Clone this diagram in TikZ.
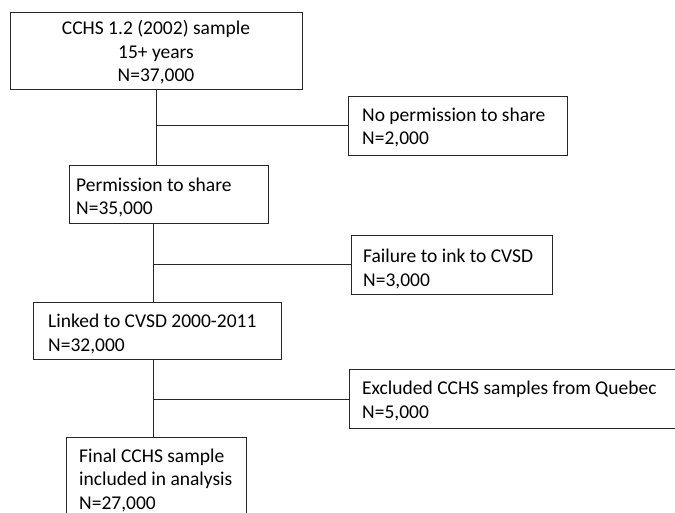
\documentclass[tikz,border=0pt]{standalone}
\usepackage{fontspec}
\setmainfont{Carlito}
\begin{document}
\begin{tikzpicture}[x=1pt,y=-1pt,
  box/.style={draw=black!85,line width=1pt,rectangle,inner sep=0pt,anchor=north west},
  txt/.style={inner sep=0pt,anchor=north west,align=left,font=\fontsize{19.5}{23.5}\selectfont},
  conn/.style={draw=black!85,line width=1pt}]
\useasboundingbox (0,0) rectangle (675,513);
\clip (0,0) rectangle (675,513);
% boxes
\node[box,minimum width=292pt,minimum height=77pt] (b1) at (10,12) {};
\node[box,minimum width=199pt,minimum height=58pt] (b2) at (69,165) {};
\node[box,minimum width=219pt,minimum height=59pt] (np) at (348,96) {};
\node[box,minimum width=201pt,minimum height=59pt] (fl) at (351,235) {};
\node[box,minimum width=248pt,minimum height=57pt] (lk) at (33,302) {};
\node[box,minimum width=360pt,minimum height=59pt] (ex) at (349,369) {};
\node[box,minimum width=180pt,minimum height=100pt] (fn) at (66,437) {};
% texts (first baseline = anchor + strut height 16.45)
\node[txt,anchor=north,align=center] (t1) at (156,18) {\strut CCHS 1.2 (2002) sample\\15+ years\\N=37,000};
\node[txt] (t2) at (76,174.5) {\strut Permission to share\\N=35,000};
\node[txt] (tnp) at (362,104.5) {\strut No permission to share\\N=2,000};
\node[txt] (tfl) at (363,246.2) {\strut Failure to ink to CVSD\\N=3,000};
\node[txt] (tlk) at (48,311.2) {\strut Linked to CVSD 2000-2011\\N=32,000};
\node[txt] (tex) at (362,378) {\strut Excluded CCHS samples from Quebec\\N=5,000};
\node[txt] (tfn) at (79,445.5) {\strut Final CCHS sample\\included in analysis\\N=27,000};
% connectors
\coordinate (tr) at (153.3,0);
\draw[conn] (b1.south) -- (b1.south |- b2.north);
\draw[conn] (b1.south |- np.west) -- (np.west);
\draw[conn] (b2.south -| tr) -- (lk.north -| tr);
\draw[conn] (tr |- fl.west) -- (fl.west);
\draw[conn] (lk.south -| tr) -- (fn.north -| tr);
\draw[conn] (tr |- ex.west) -- (ex.west);
\end{tikzpicture}
\end{document}
